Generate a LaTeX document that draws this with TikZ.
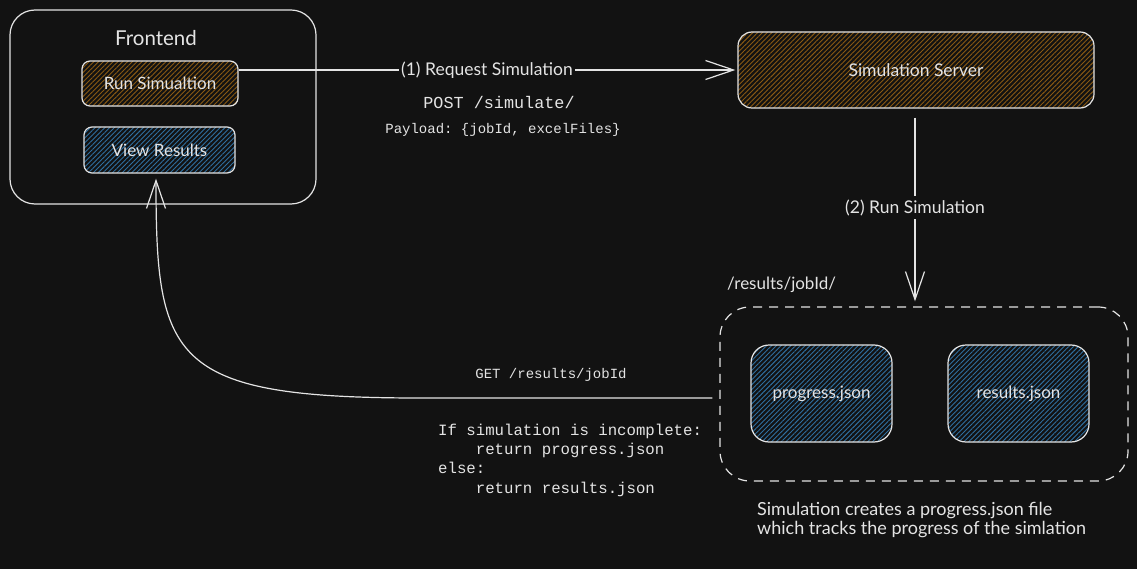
\documentclass[tikz,border=0pt]{standalone}
\usepackage{fontspec}
\setmainfont{Lato}
\setmonofont{Liberation Mono}
\usetikzlibrary{arrows.meta,patterns.meta,calc}
\definecolor{bg}{HTML}{121212}
\definecolor{ink}{HTML}{E4E4E4}
\definecolor{brownh}{HTML}{8A5A12}
\definecolor{blueh}{HTML}{2F6FA0}
\newcommand\handfont[1]{\fontsize{#1}{#1}\selectfont}
\begin{document}
\begin{tikzpicture}[x=1pt,y=-1pt,
  box/.style={draw=ink, line width=1.2pt, inner sep=0pt, text=ink, font=\handfont{17}},
  hatchbrown/.style={box, preaction={fill=bg}, preaction={pattern={Lines[angle=45,distance=3.4pt,line width=0.9pt]}, pattern color=brownh}},
  hatchblue/.style={box, preaction={fill=bg}, preaction={pattern={Lines[angle=45,distance=3.4pt,line width=0.9pt]}, pattern color=blueh}},
  arr/.style={draw=ink, line width=1.2pt, -{Straight Barb[length=28pt,width=19pt,line width=1.2pt]}},
  lbl/.style={text=ink, inner sep=1pt},
  mono/.style={lbl, font=\ttfamily\handfont{#1}},
]
\fill[bg] (0,0) rectangle (1137,569);
\useasboundingbox (0,0) rectangle (1137,569);

% Frontend group
\node[box, rounded corners=25pt, minimum width=306pt, minimum height=194pt] (front) at (163,107) {};
\node[lbl, font=\handfont{20.5}] (ftitle) at (156,38) {Frontend};
\node[hatchbrown, rounded corners=8pt, minimum width=156pt, minimum height=45pt] (run) at (160,83.5) {Run Simualtion};
\node[hatchblue, rounded corners=8pt, minimum width=151pt, minimum height=46pt] (view) at (159.5,150) {View Results};

% Server
\node[hatchbrown, font=\handfont{17.5}, rounded corners=14pt, minimum width=356pt, minimum height=76pt] (server) at (916,70) {Simulation Server};

% results folder
\node[box, dashed, dash pattern=on 9pt off 7pt, rounded corners=30pt, minimum width=408pt, minimum height=174pt] (folder) at (924,394) {};
\node[lbl, font=\handfont{17}, anchor=west] (fpath) at (726,285) {/results/jobId/};
\node[hatchblue, rounded corners=18pt, minimum width=141pt, minimum height=97pt] (prog) at (821.5,393.5) {progress.json};
\node[hatchblue, rounded corners=18pt, minimum width=141pt, minimum height=97pt] (res) at (1018.5,393.5) {results.json};
\node[lbl, font=\fontsize{18}{19}\selectfont, anchor=north west, align=left] (note) at (756,501) {Simulation creates a progress.json file\\which tracks the progress of the simlation};

% arrow 1
\draw[arr] (run.east |- server.west) -- ([xshift=-2pt]server.west)
  node[midway, lbl, fill=bg, inner xsep=2pt, font=\handfont{17.5}] (l1) {(1) Request Simulation};
\node[mono=16.8] (post) at (499,102) {POST /simulate/};
\node[mono=14] (payload) at (503,130) {Payload: \{jobId, excelFiles\}};

% arrow 2
\draw[arr, shorten <=9pt, shorten >=5pt] (server.south -| 915,0) -- (folder.north -| 915,0)
  node[pos=0.5, lbl, fill=bg, inner ysep=3pt, font=\handfont{17.5}] (l2) {(2) Run Simulation};

% arrow 3
\draw[arr] ([xshift=-7pt,yshift=-4pt]folder.west) -- (420,398) .. controls (170,398) and (156,360) .. ([xshift=-3.5pt,yshift=-5pt]view.south);
\node[mono=14] (get) at (551,375) {GET /results/jobId};
\node[mono=15.7, anchor=north west, align=left] (ifblock) at (437,423)
  {If simulation is incomplete:\\[3.5pt]\phantom{else}return progress.json\\[3.5pt]else:\\[3.5pt]\phantom{else}return results.json};
\end{tikzpicture}
\end{document}
